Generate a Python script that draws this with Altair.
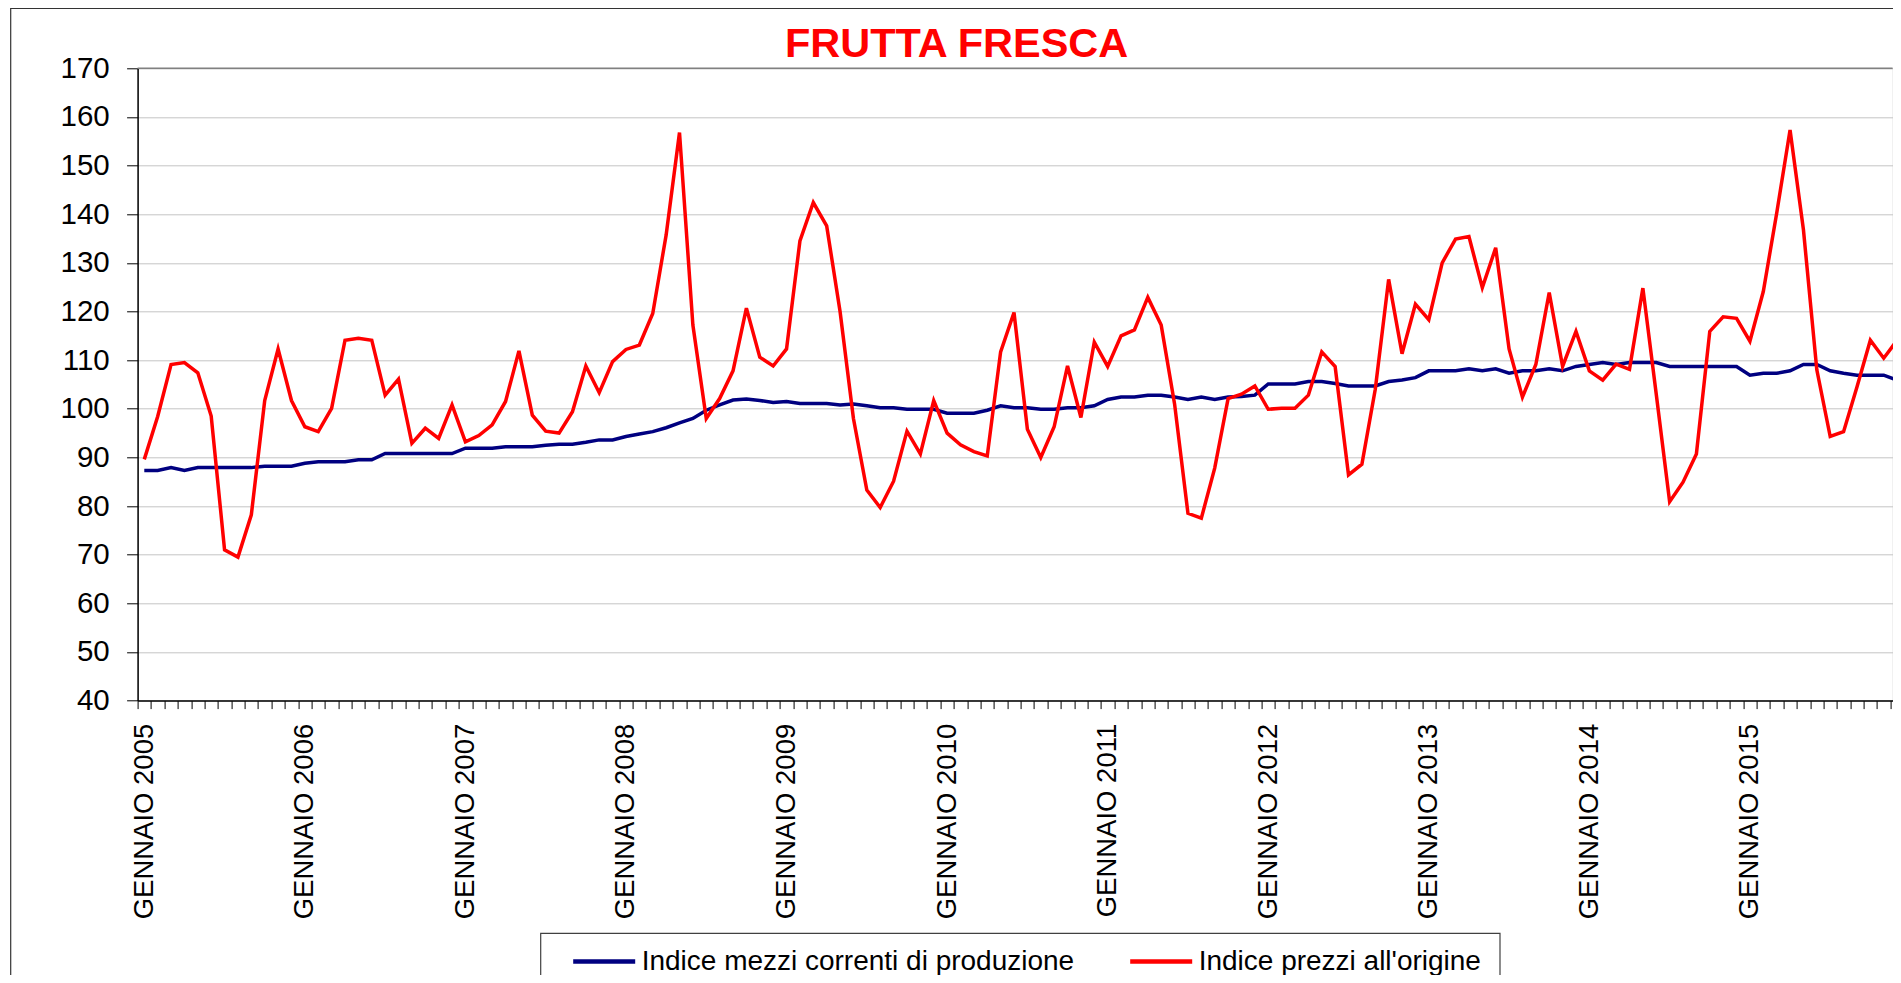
import altair as alt
import pandas as pd

MESI = ["GENNAIO", "FEBBRAIO", "MARZO", "APRILE", "MAGGIO", "GIUGNO",
        "LUGLIO", "AGOSTO", "SETTEMBRE", "OTTOBRE", "NOVEMBRE", "DICEMBRE"]
ANNI = list(range(2005, 2016))
PERIODI = [f"{m} {a}" for a in ANNI for m in MESI]

SERIE_MEZZI = "Indice mezzi correnti di produzione"
SERIE_PREZZI = "Indice prezzi all'origine"

MEZZI = [
    87.3, 87.3, 87.9, 87.3, 87.9, 87.9, 87.9, 87.9, 87.9, 88.2, 88.2, 88.2,
    88.8, 89.1, 89.1, 89.1, 89.5, 89.5, 90.8, 90.8, 90.8, 90.8, 90.8, 90.8,
    91.9, 91.9, 91.9, 92.2, 92.2, 92.2, 92.5, 92.7, 92.7, 93.1, 93.6, 93.6,
    94.3, 94.8, 95.3, 96.1, 97.1, 98.0, 99.7, 100.8, 101.8, 102.0, 101.7, 101.3,
    101.5, 101.1, 101.1, 101.1, 100.8, 101.0, 100.6, 100.2, 100.2, 99.9, 99.9, 99.9,
    99.1, 99.1, 99.1, 99.7, 100.6, 100.2, 100.2, 99.9, 99.9, 100.2, 100.2, 100.6,
    101.9, 102.4, 102.4, 102.8, 102.8, 102.4, 101.9, 102.4, 101.9, 102.4, 102.5, 102.8,
    105.1, 105.1, 105.1, 105.6, 105.6, 105.2, 104.7, 104.7, 104.7, 105.6, 105.9, 106.4,
    107.8, 107.8, 107.8, 108.2, 107.8, 108.2, 107.3, 107.8, 107.8, 108.2, 107.8, 108.7,
    109.1, 109.5, 109.1, 109.5, 109.5, 109.5, 108.7, 108.7, 108.7, 108.7, 108.7, 108.7,
    106.9, 107.3, 107.3, 107.8, 109.1, 109.1, 107.8, 107.3, 106.9, 106.9, 106.9, 105.9,
]

PREZZI = [
    89.6, 98.4, 109.1, 109.5, 107.4, 98.5, 71.0, 69.5, 78.2, 101.7, 112.3, 101.7,
    96.3, 95.3, 100.1, 114.1, 114.5, 114.1, 102.8, 106.1, 92.9, 96.0, 93.9, 100.8,
    93.2, 94.5, 96.7, 101.5, 111.9, 98.7, 95.4, 95.0, 99.4, 108.8, 103.3, 109.7,
    112.2, 113.1, 119.6, 135.7, 156.8, 117.2, 98.0, 102.1, 107.8, 120.7, 110.6, 108.8,
    112.3, 134.5, 142.4, 137.6, 120.0, 98.0, 83.3, 79.7, 85.1, 95.4, 90.7, 101.7,
    95.0, 92.6, 91.2, 90.3, 111.7, 119.8, 95.8, 90.0, 96.3, 108.8, 98.2, 113.7,
    108.7, 115.0, 116.2, 122.9, 117.2, 101.0, 78.5, 77.5, 87.8, 102.1, 103.0, 104.7,
    99.9, 100.1, 100.1, 102.8, 111.7, 108.7, 86.4, 88.6, 104.0, 126.6, 111.3, 121.5,
    118.3, 130.0, 134.9, 135.4, 124.9, 133.1, 112.3, 102.4, 109.1, 123.9, 108.7, 115.9,
    107.8, 105.9, 109.2, 108.1, 124.8, 103.0, 80.9, 84.9, 90.7, 115.9, 118.9, 118.6,
    113.9, 124.1, 140.2, 157.3, 136.8, 108.0, 94.3, 95.3, 104.5, 114.1, 110.4, 114.1,
]

TICK_Y = list(range(40, 171, 10))
Y_MIN, Y_MAX = 40, 170
COLORI = ["#000080", "#FF0000"]
FONT = "Liberation Sans, Arial, sans-serif"

df = pd.DataFrame({
    "periodo": PERIODI * 2,
    "serie": [SERIE_MEZZI] * len(PERIODI) + [SERIE_PREZZI] * len(PERIODI),
    "valore": MEZZI + PREZZI,
})

x_enc = alt.X(
    "periodo:O", sort=PERIODI, bandPosition=0.5,
    scale=alt.Scale(type="band", paddingInner=0, paddingOuter=0, range=[0, 1766.2]),
    axis=alt.Axis(
        title=None,
        labelExpr="indexof(datum.label, 'GENNAIO') == 0 ? datum.label : ''",
        labelAngle=270, labelFontSize=27.5, labelPadding=14.7, labelOverlap=False,
        labelColor="black", labelFont=FONT, labelLimit=500,
        tickBand="extent", tickSize=8, tickColor="black", tickWidth=1,
        domainColor="black", domainWidth=1.5, grid=False,
    ),
)

y_enc = alt.Y(
    "valore:Q",
    scale=alt.Scale(domain=[Y_MIN, Y_MAX], nice=False, zero=False),
    axis=alt.Axis(
        title=None, values=TICK_Y, labelFontSize=29.5, labelPadding=17.4,
        labelColor="black", labelFont=FONT,
        tickSize=11, tickColor="black", tickWidth=1,
        domainColor="black", domainWidth=1.5,
        grid=True, gridColor="#c4c4c4", gridWidth=1,
    ),
)

color_enc = alt.Color(
    "serie:N", sort=[SERIE_MEZZI, SERIE_PREZZI],
    scale=alt.Scale(domain=[SERIE_MEZZI, SERIE_PREZZI], range=COLORI),
    legend=alt.Legend(
        title=None, orient="none", legendX=433.1, legendY=859.5, direction="horizontal",
        symbolType="stroke", symbolSize=3844, symbolStrokeWidth=4.5,
        labelFontSize=28, labelColor="black", labelFont=FONT, labelLimit=800,
        labelOffset=4, columnPadding=46, padding=0, symbolOffset=0,
    ),
)

bordo_sup = alt.Chart(pd.DataFrame({"valore": [Y_MAX]})).mark_rule(
    color="#808080", strokeWidth=1.5
).encode(y=y_enc)

linee = alt.Chart(df).mark_line(strokeWidth=3.5).encode(
    x=x_enc, y=y_enc, color=color_enc, order=alt.Order("serie:N")
)

cornice_sx = alt.Chart(pd.DataFrame({"k": [0]})).mark_rule(color="#333333", strokeWidth=1.2).encode(
    x=alt.value(-126.9), y=alt.value(-60.3), y2=alt.value(915)
)
cornice_top = alt.Chart(pd.DataFrame({"k": [0]})).mark_rule(color="#333333", strokeWidth=1.2).encode(
    x=alt.value(-126.9), x2=alt.value(1760), y=alt.value(-59.8)
)
riquadro_legenda = alt.Chart(pd.DataFrame({"k": [0]})).mark_rect(
    fill="white", stroke="#404040", strokeWidth=1.2
).encode(
    x=alt.value(403.1), x2=alt.value(1362.4), y=alt.value(865), y2=alt.value(917)
)

chart = alt.layer(bordo_sup, linee, cornice_sx, cornice_top, riquadro_legenda).properties(
    width=1755, height=632.3,
    title=alt.Title(
        "FRUTTA FRESCA", color="#FF0000", fontSize=41.5, fontWeight="bold", font=FONT,
        anchor="middle", frame="group", dx=-58.5, offset=-91, baseline="alphabetic",
    ),
    autosize=alt.AutoSizeParams(type="none"),
    padding={"left": 129.6, "top": 60.3, "right": 0, "bottom": 274.4},
).configure_view(stroke=None).configure(font=FONT, background="white")

chart.save("out.html", embed_options={"renderer": "svg", "actions": False})
